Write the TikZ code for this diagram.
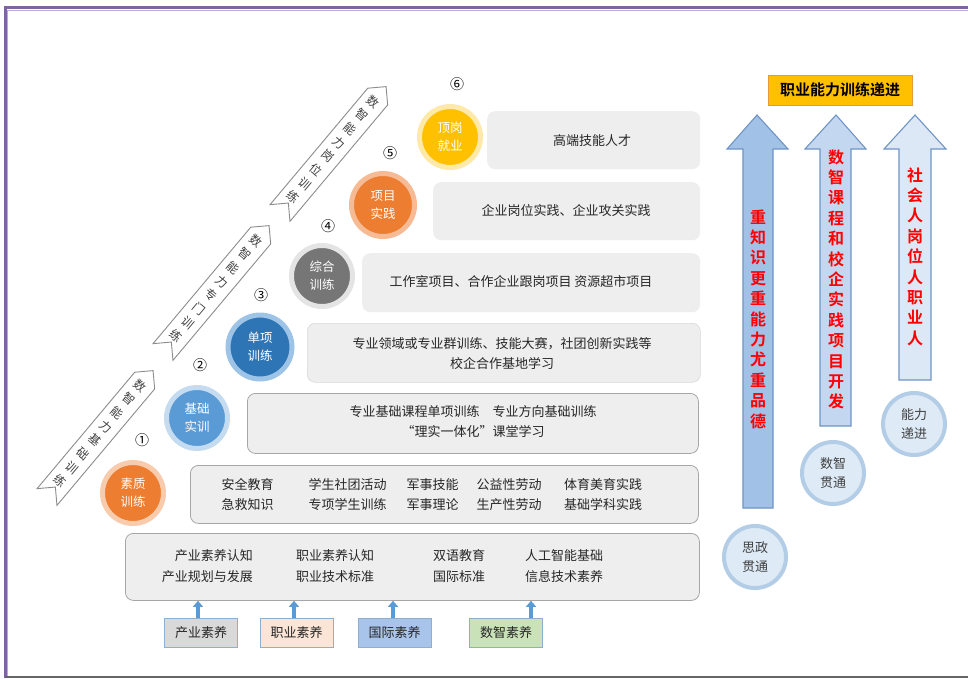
\documentclass[tikz,border=0pt]{standalone}
\usepackage{fontspec}
\setmainfont{Noto Sans CJK SC}[BoldFont={Noto Sans CJK SC Bold}]
\usetikzlibrary{arrows.meta}
\definecolor{framepurple}{HTML}{7F64A0}
\definecolor{framelight}{HTML}{B9AAD3}
\definecolor{boxfill}{HTML}{EEEEEE}
\definecolor{boxline}{HTML}{A6A6A6}
\definecolor{txt}{HTML}{262626}
\definecolor{orangeC}{HTML}{ED7D31}
\definecolor{orangeH}{HTML}{F8CBAD}
\definecolor{blueC}{HTML}{5B9BD5}
\definecolor{blueH}{HTML}{C5DCF0}
\definecolor{dblueC}{HTML}{2E75B6}
\definecolor{dblueH}{HTML}{9DC3E6}
\definecolor{grayC}{HTML}{767676}
\definecolor{grayH}{HTML}{E4E4E4}
\definecolor{yellowC}{HTML}{FFC000}
\definecolor{yellowH}{HTML}{FFE9A8}
\definecolor{arrowblue}{HTML}{5B9BD5}
\definecolor{bigA}{HTML}{A2C1E6}
\definecolor{bigB}{HTML}{C3D8F0}
\definecolor{bigC}{HTML}{DCE8F5}
\definecolor{bigline}{HTML}{7094C4}
\definecolor{rcfill}{HTML}{DEEBF7}
\definecolor{rcline}{HTML}{B3CDE6}
\definecolor{titlefill}{HTML}{FFC000}
\definecolor{titleline}{HTML}{E59A3A}
\definecolor{sgray}{HTML}{D9D9D9}
\definecolor{speach}{HTML}{FBE5D6}
\definecolor{sblue}{HTML}{A9C4EA}
\definecolor{sgreen}{HTML}{C9E2B8}
\definecolor{sline}{HTML}{8FAFD0}
\begin{document}
\begin{tikzpicture}[x=1pt,y=-1pt,
  rbox/.style={rounded corners=8pt, fill=boxfill, draw=boxline, line width=0.8pt, inner sep=0pt},
  rboxlight/.style={rounded corners=8pt, fill=boxfill, draw=boxfill!80!gray, line width=0.6pt, inner sep=0pt},
  rboxplain/.style={rounded corners=8pt, fill=boxfill, inner sep=0pt},
  btext/.style={text=txt, align=center, inner sep=1pt, font=\fontsize{13}{20.5}\selectfont},
  stage/.style={circle, line width=5pt, minimum size=61pt, inner sep=0pt, text=white, align=center, font=\fontsize{12.5}{18}\selectfont},
  numlabel/.style={text=black, inner sep=0pt, font=\fontsize{14}{14}\selectfont},
  banner/.style={draw=gray!90, fill=white, line width=0.9pt, line join=miter},
  bantext/.style={text=black!75, align=center, inner sep=0pt, font=\fontsize{12}{17.8}\selectfont},
  bigarrow/.style={draw=bigline, line width=1.1pt, line join=miter},
  redtext/.style={text=red, align=center, inner sep=0pt, font=\fontsize{16}{20.4}\selectfont\bfseries},
  rcircle/.style={circle, fill=rcfill, draw=rcline, line width=4pt, minimum size=62pt, inner sep=0pt, align=center, text=black!75, font=\fontsize{13}{19}\selectfont},
  sbox/.style={draw=sline, line width=0.8pt, minimum width=73pt, minimum height=29pt, inner sep=0pt, text=txt, font=\fontsize{13}{16}\selectfont},
  bluearrow/.style={draw=arrowblue, line width=3.5pt, -{Triangle[length=6pt,width=10pt]}}
]
\useasboundingbox (0,0) rectangle (968,678);
\fill[white] (0,0) rectangle (968,678);

% frame
\draw[framepurple, line width=3pt] (5,678) -- (5,7.5) -- (968,7.5);
\draw[framelight, line width=1pt] (7.8,678) -- (7.8,10.3) -- (968,10.3);
\draw[gray!80!black, line width=2pt] (5,676.5) -- (968,676.5);

% banners
\begin{scope}[shift={(47,497)},rotate=50]
  \draw[banner] (0,-13) -- (152,-13) -- (165,0) -- (152,13) -- (0,13) -- (13,0) -- cycle;
  \node[bantext, rotate=-40] (ban1) at (83,0) {数\\智\\能\\力\\基\\础\\训\\练};
\end{scope}
\begin{scope}[shift={(163,352)},rotate=50]
  \draw[banner] (0,-13) -- (152,-13) -- (165,0) -- (152,13) -- (0,13) -- (13,0) -- cycle;
  \node[bantext, rotate=-40] (ban2) at (83,0) {数\\智\\能\\力\\专\\门\\训\\练};
\end{scope}
\begin{scope}[shift={(280,213)},rotate=50]
  \draw[banner] (0,-13) -- (152,-13) -- (165,0) -- (152,13) -- (0,13) -- (13,0) -- cycle;
  \node[bantext, rotate=-40] (ban3) at (83,0) {数\\智\\能\\力\\岗\\位\\训\\练};
\end{scope}

% content boxes
\node[rbox, minimum width=508pt, minimum height=58pt, anchor=north west] (b1) at (190,465) {};
\node[rbox, minimum width=451pt, minimum height=60pt, anchor=north west] (b2) at (247,393) {};
\node[rboxlight, minimum width=393pt, minimum height=59pt, anchor=north west] (b3) at (307,323) {};
\node[rboxplain, minimum width=338pt, minimum height=59pt, anchor=north west] (b4) at (362,253) {};
\node[rboxplain, minimum width=267pt, minimum height=58pt, anchor=north west] (b5) at (433,182) {};
\node[rboxplain, minimum width=213pt, minimum height=58pt, anchor=north west] (b6) at (487,111) {};
\node[rbox, minimum width=574pt, minimum height=67pt, anchor=north west] (bb) at (125,533) {};

% box texts
\node[btext] (t1a) at (247.5,494.5) {安全教育\\急救知识};
\node[btext] (t1b) at (347.5,494.5) {学生社团活动\\专项学生训练};
\node[btext] (t1c) at (432.5,494.5) {军事技能\\军事理论};
\node[btext] (t1d) at (509,494.5) {公益性劳动\\生产性劳动};
\node[btext] (t1e) at (603,494.5) {体育美育实践\\基础学科实践};
\node[btext] (t2) at (473,421.5) {专业基础课程单项训练\hspace{1em}专业方向基础训练\\“理实一体化”课堂学习};
\node[btext] (t3) at (502,353.5) {专业领域或专业群训练、技能大赛，社团创新实践等\\校企合作基地学习};
\node[btext] (t4) at (521,282) {工作室项目、合作企业跟岗项目 资源超市项目};
\node[btext] (t5) at (566,210.5) {企业岗位实践、企业攻关实践};
\node[btext] (t6) at (592,140.5) {高端技能人才};

\node[btext, align=right, anchor=east] (bt1) at (254,566) {产业素养认知\\产业规划与发展};
\node[btext] (bt2) at (335,566) {职业素养认知\\职业技术标准};
\node[btext] (bt3) at (459,566) {双语教育\\国际标准};
\node[btext] (bt4) at (564,566) {人工智能基础\\信息技术素养};

% stage circles
\node[stage, fill=orangeC, draw=orangeH] (c1) at (133,493) {素质\\训练};
\node[stage, fill=blueC, draw=blueH] (c2) at (197,418) {基础\\实训};
\node[stage, fill=dblueC, draw=dblueH, minimum size=64pt] (c3) at (260,347) {单项\\训练};
\node[stage, fill=grayC, draw=grayH] (c4) at (322,276) {综合\\训练};
\node[stage, fill=orangeC, draw=orangeH!80!orangeC, minimum size=63pt] (c5) at (383,205) {项目\\实践};
\node[stage, fill=yellowC, draw=yellowH] (c6) at (450,137) {顶岗\\就业};

\node[numlabel] (n1) at (142,440) {①};
\node[numlabel] (n2) at (200,365) {②};
\node[numlabel] (n3) at (261,295) {③};
\node[numlabel] (n4) at (328,226) {④};
\node[numlabel] (n5) at (390,153) {⑤};
\node[numlabel] (n6) at (457,84) {⑥};

% bottom small boxes
\node[sbox, fill=sgray] (s1) at (201,632.5) {产业素养};
\node[sbox, fill=speach] (s2) at (296.5,632.5) {职业素养};
\node[sbox, fill=sblue] (s3) at (394.5,632.5) {国际素养};
\node[sbox, fill=sgreen] (s4) at (506,632.5) {数智素养};
\draw[bluearrow] ([xshift=-3pt]s1.north) -- ([xshift=-3pt]s1.north |- bb.south);
\draw[bluearrow] ([xshift=-2.5pt]s2.north) -- ([xshift=-2.5pt]s2.north |- bb.south);
\draw[bluearrow] ([xshift=-1.5pt]s3.north) -- ([xshift=-1.5pt]s3.north |- bb.south);
\draw[bluearrow] ([xshift=25pt]s4.north) -- ([xshift=25pt]s4.north |- bb.south);

% right side
\node[fill=titlefill, draw=titleline, line width=0.8pt, minimum width=144pt, minimum height=30pt, inner sep=0pt,
      font=\fontsize{15}{15}\selectfont\bfseries] (title) at (840,90) {职业能力训练递进};

\draw[bigarrow, fill=bigA] (757,115) -- (788,149) -- (773,149) -- (773,508) -- (743,508) -- (743,149) -- (727,149) -- cycle;
\draw[bigarrow, fill=bigB] (836,115) -- (866,149) -- (851,149) -- (851,426) -- (820,426) -- (820,149) -- (805,149) -- cycle;
\draw[bigarrow, fill=bigC] (915,115) -- (946,149) -- (931,149) -- (931,380) -- (899,380) -- (899,149) -- (884,149) -- cycle;

\node[redtext] (r1) at (758,319) {重\\知\\识\\更\\重\\能\\力\\尤\\重\\品\\德};
\node[redtext] (r2) at (836,279.5) {数\\智\\课\\程\\和\\校\\企\\实\\践\\项\\目\\开\\发};
\node[redtext] (r3) at (915,256.5) {社\\会\\人\\岗\\位\\人\\职\\业\\人};

\node[rcircle] (k1) at (755,557) {思政\\贯通};
\node[rcircle] (k2) at (833,473) {数智\\贯通};
\node[rcircle] (k3) at (914,424) {能力\\递进};
\end{tikzpicture}
\end{document}
